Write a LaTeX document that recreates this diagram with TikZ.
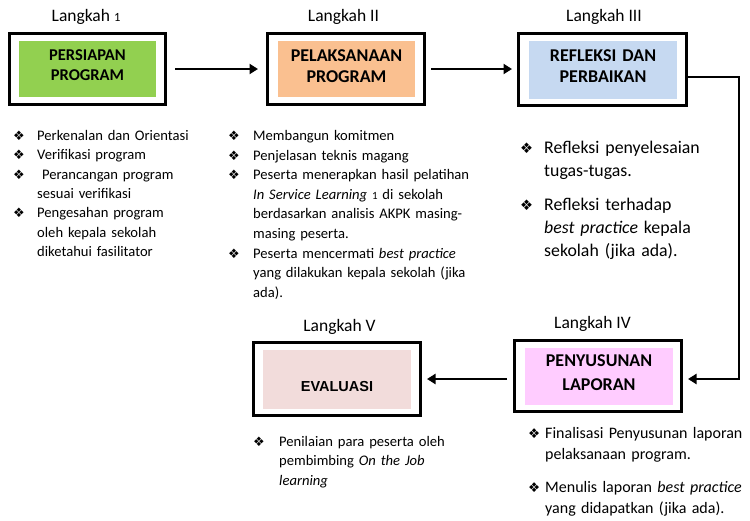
\documentclass[tikz,border=0pt]{standalone}
\usepackage{fontspec}
\setmainfont{Carlito}
\newfontfamily\dejavu{DejaVu Sans}
\newfontfamily\arialf{Liberation Sans}
\usetikzlibrary{arrows.meta}
\definecolor{cgreen}{HTML}{92D050}
\definecolor{corange}{HTML}{FAC090}
\definecolor{cblue}{HTML}{C6D9F1}
\definecolor{cpink}{HTML}{F2DCDB}
\definecolor{cmagenta}{HTML}{FFCCFF}
\newcommand\bulsym[1]{{\dejavu\fontsize{#1}{#1}\selectfont ❖}}
\newcommand\itm[2][24pt]{\leavevmode\llap{\makebox[#1][l]{\bulsym{#2}}}\ignorespaces}
\begin{document}
\begin{tikzpicture}[x=1pt,y=-1pt,
  outerbox/.style={draw, line width=3pt, fill=white, inner sep=0pt},
  innerbox/.style={inner sep=0pt, draw=none},
  titletext/.style={anchor=base, inner sep=0pt, text width=150pt, align=center, font=\bfseries\fontsize{18}{21.7}\selectfont},
  steplabel/.style={anchor=base, inner sep=0pt, font=\fontsize{17.5}{20}\selectfont},
  listtext/.style={anchor=base west, inner sep=0pt, text width=240pt, align=left},
  conn/.style={line width=2.7pt, -{Triangle[length=8.5pt,width=10pt]}}
]
\useasboundingbox (0,0) rectangle (750,520);

% boxes
\node[outerbox, minimum width=156pt, minimum height=71pt] (b1) at (87.5,69) {};
\node[innerbox, fill=cgreen, minimum width=137pt, minimum height=56pt] (b1i) at (87.5,69) {};
\node[titletext, font=\bfseries\fontsize{16.5}{20.7}\selectfont] (t1) at (87.5,60) {PERSIAPAN\\PROGRAM};

\node[outerbox, minimum width=157pt, minimum height=71pt] (b2) at (346,69) {};
\node[innerbox, fill=corange, minimum width=137pt, minimum height=56pt] (b2i) at (346.5,69) {};
\node[titletext] (t2) at (346.5,61) {PELAKSANAAN\\PROGRAM};

\node[outerbox, minimum width=168pt, minimum height=72pt] (b3) at (602.5,69.5) {};
\node[innerbox, fill=cblue, minimum width=148pt, minimum height=58pt] (b3i) at (603,70) {};
\node[titletext] (t3) at (603,61) {REFLEKSI DAN\\PERBAIKAN};

\node[outerbox, minimum width=167pt, minimum height=71pt] (b4) at (598,376) {};
\node[innerbox, fill=cmagenta, minimum width=148pt, minimum height=57pt] (b4i) at (599,376.5) {};
\node[titletext, font=\bfseries\fontsize{18}{23.3}\selectfont] (t4) at (599,366.7) {PENYUSUNAN\\LAPORAN};

\node[outerbox, minimum width=167pt, minimum height=73pt] (b5) at (337,379) {};
\node[innerbox, fill=cpink, minimum width=148pt, minimum height=59pt] (b5i) at (337,379.5) {};
\node[anchor=base, inner sep=0pt, font=\arialf\bfseries\fontsize{14.5}{16}\selectfont] (t5) at (337,391.5) {EVALUASI};

% step labels
\node[steplabel] (l1) at (86,21.5) {Langkah {\fontsize{12.5}{12}\selectfont 1}};
\node[steplabel] (l2) at (343.5,21.5) {Langkah II};
\node[steplabel] (l3) at (604,21.5) {Langkah III};
\node[steplabel] (l4) at (592.5,328.5) {Langkah IV};
\node[steplabel] (l5) at (339.5,331.5) {Langkah V};

% connectors
\coordinate (c1) at (739,77);
\draw[conn, shorten <=8pt, shorten >=8pt] (b1.east) -- (b2.west);
\draw[conn, shorten <=5pt, shorten >=5pt] (b2.east) -- (b2.east -| b3.west);
\draw[conn, shorten >=5pt] (b3.east |- c1) -- (c1) |- (b4.east |- b5.east);
\draw[conn, shorten <=6pt, shorten >=5pt] (b4.west |- b5.east) -- (b5.east);

% lists
\node[listtext, font=\fontsize{14.6}{19.3}\selectfont] (s1) at (37,140.5) {%
\itm{13} Perkenalan dan Orientasi\\
\itm{13} Verifikasi program\\
\itm{13}\ Perancangan program\\
sesuai verifikasi\\
\itm{13} Pengesahan program\\
oleh kepala sekolah\\
diketahui fasilitator};

\node[listtext, font=\fontsize{14.6}{19.6}\selectfont] (s2) at (253,140.5) {%
\itm[25pt]{13} Membangun komitmen\\
\itm[25pt]{13} Penjelasan teknis magang\\
\itm[25pt]{13}\makebox[225pt][s]{Peserta menerapkan hasil pelatihan}\\
\makebox[225pt][s]{\textit{In Service Learning} {\fontsize{11}{11}\selectfont 1} di sekolah}\\
\makebox[225pt][s]{berdasarkan analisis AKPK masing-}\\
masing peserta.\\
\itm[25pt]{13} Peserta mencermati \textit{best practice}\\
yang dilakukan kepala sekolah (jika\\
ada).};

\node[listtext, font=\fontsize{17.8}{23}\selectfont] (s3) at (544,153) {%
\itm{14.5} Refleksi penyelesaian\\
tugas-tugas.\\[11pt]
\itm{14.5} Refleksi terhadap\\
\textit{best practice} kepala\\
sekolah (jika ada).};

\node[listtext, font=\fontsize{16}{21}\selectfont] (s4) at (545,438.5) {%
\itm[17pt]{13.5} Finalisasi Penyusunan laporan\\
pelaksanaan program.\\[11.5pt]
\itm[17pt]{13.5} Menulis laporan \textit{best practice}\\
yang didapatkan (jika ada).};

\node[listtext, font=\fontsize{14.6}{19.5}\selectfont] (s5) at (279,446) {%
\itm[26pt]{13} Penilaian para peserta oleh\\
pembimbing \textit{On the Job}\\
\textit{learning}};
\end{tikzpicture}
\end{document}
